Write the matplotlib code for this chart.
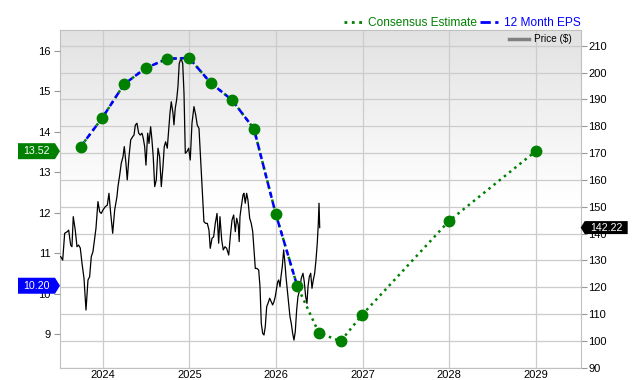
import numpy as np
import pandas as pd
import matplotlib
matplotlib.use("Agg")
import matplotlib.pyplot as plt
import matplotlib.transforms as mtransforms
from matplotlib.patches import Polygon
from matplotlib.lines import Line2D
from matplotlib.colors import LinearSegmentedColormap

plt.rcParams['font.family'] = ['Liberation Sans', 'DejaVu Sans']

# 12 month EPS (reported) followed by consensus estimates
eps_dates = ["2023-09-30", "2023-12-31", "2024-03-31", "2024-06-30", "2024-09-30",
             "2024-12-31", "2025-03-31", "2025-06-30", "2025-09-30", "2025-12-31",
             "2026-03-31", "2026-06-30", "2026-09-30", "2026-12-31", "2027-12-31",
             "2028-12-31"]
eps_values = [13.63, 14.35, 15.17, 15.57, 15.80, 15.82, 15.21, 14.78, 14.07, 11.97,
              10.20, 9.04, 8.83, 9.49, 11.80, 13.52]
n_reported = 11

# weekly share price (decimal year, $)
price_t = [2023.515, 2023.538, 2023.561, 2023.591, 2023.607, 2023.630, 2023.645, 2023.660,
           2023.683, 2023.703, 2023.722, 2023.741, 2023.761, 2023.784, 2023.807, 2023.830,
           2023.849, 2023.868, 2023.887, 2023.907, 2023.922, 2023.945, 2023.965, 2023.983,
           2024.003, 2024.029, 2024.053, 2024.072, 2024.092, 2024.115, 2024.138, 2024.164,
           2024.176, 2024.196, 2024.214, 2024.234, 2024.249, 2024.268, 2024.283, 2024.303,
           2024.323, 2024.346, 2024.361, 2024.376, 2024.395, 2024.415, 2024.433, 2024.453,
           2024.468, 2024.484, 2024.499, 2024.519, 2024.534, 2024.553, 2024.568, 2024.583,
           2024.600, 2024.618, 2024.638, 2024.657, 2024.676, 2024.695, 2024.710, 2024.726,
           2024.745, 2024.761, 2024.776, 2024.791, 2024.811, 2024.822, 2024.837, 2024.853,
           2024.868, 2024.883, 2024.903, 2024.923, 2024.938, 2024.953, 2024.972, 2024.992,
           2025.010, 2025.030, 2025.053, 2025.073, 2025.091, 2025.111, 2025.130, 2025.149,
           2025.168, 2025.188, 2025.207, 2025.226, 2025.241, 2025.261, 2025.280, 2025.299,
           2025.319, 2025.338, 2025.353, 2025.373, 2025.391, 2025.411, 2025.430, 2025.454,
           2025.472, 2025.492, 2025.511, 2025.530, 2025.546, 2025.564, 2025.575, 2025.584,
           2025.599, 2025.619, 2025.630, 2025.645, 2025.661, 2025.676, 2025.696, 2025.714,
           2025.731, 2025.746, 2025.761, 2025.780, 2025.800, 2025.815, 2025.830, 2025.846,
           2025.861, 2025.876, 2025.892, 2025.907, 2025.927, 2025.945, 2025.961, 2025.976,
           2025.991, 2026.007, 2026.019, 2026.031, 2026.046, 2026.057, 2026.072, 2026.088,
           2026.103, 2026.115, 2026.130, 2026.146, 2026.161, 2026.176, 2026.192, 2026.207,
           2026.222, 2026.238, 2026.253, 2026.273, 2026.291, 2026.311, 2026.326, 2026.342,
           2026.357, 2026.369, 2026.384, 2026.400, 2026.415, 2026.430, 2026.446, 2026.461,
           2026.476, 2026.488, 2026.496, 2026.504]
price = [131.4, 130.1, 140.1, 140.7, 141.3, 135.7, 135.1, 146.3,
         141.3, 135.1, 135.7, 134.6, 128.9, 123.3, 111.5, 122.7,
         123.9, 131.4, 133.2, 138.2, 141.9, 151.9, 148.1, 147.5,
         148.8, 150.0, 150.6, 155.0, 147.5, 140.1, 148.8, 153.7,
         157.5, 161.8, 166.2, 168.6, 172.4, 166.2, 160.0, 168.6,
         174.9, 176.1, 176.7, 180.4, 181.1, 177.4, 176.7, 177.4,
         175.5, 172.4, 165.5, 177.4, 173.6, 179.8, 174.9, 168.6,
         157.5, 160.0, 171.8, 168.6, 157.5, 164.9, 172.4, 174.2,
         171.8, 178.6, 184.8, 189.1, 184.8, 180.5, 186.7, 189.8,
         194.7, 203.4, 205.3, 203.4, 192.3, 169.9, 170.5, 171.8,
         167.4, 181.1, 187.3, 184.2, 180.4, 179.2, 167.4, 155.0,
         144.4, 143.8, 143.8, 141.3, 134.5, 138.2, 138.8, 143.8,
         147.5, 136.4, 146.3, 137.6, 133.9, 135.1, 134.5, 132.0,
         138.8, 145.0, 146.9, 140.7, 145.7, 143.2, 137.0, 146.3,
         150.0, 154.4, 155.0, 151.3, 155.0, 152.5, 145.7, 143.8,
         140.7, 133.9, 127.0, 127.0, 126.4, 120.2, 106.5, 102.8,
         102.2, 105.3, 112.7, 114.0, 115.9, 114.6, 113.4, 114.6,
         116.5, 119.6, 122.0, 122.7, 120.2, 123.9, 127.6, 133.9,
         128.9, 123.9, 119.0, 114.0, 109.0, 106.5, 102.8, 100.3,
         103.4, 111.5, 116.5, 119.0, 123.3, 125.2, 122.0, 116.5,
         114.0, 120.2, 123.9, 125.2, 119.6, 122.7, 125.2, 130.1,
         136.4, 143.8, 151.3, 142.22]

year_ticks = [2024, 2025, 2026, 2027, 2028, 2029]
eps_ticks = [9, 10, 11, 12, 13, 14, 15, 16]
price_ticks = list(range(90, 211, 10))


def to_year(s):
    d = pd.to_datetime(s)
    return d.year + (d.dayofyear - 1) / (366 if d.is_leap_year else 365)


eps_t = np.array([to_year(s) for s in eps_dates])

fig = plt.figure(figsize=(6.4, 3.8), dpi=100)
ax = fig.add_axes([60 / 640, 12 / 380, 520.7 / 640, 338 / 380])

# grey-to-white background
cmap = LinearSegmentedColormap.from_list("bg", [(0, "white"), (0.5, "white"), (1, "#e2e2e2")])
grad = np.linspace(0, 1, 256).reshape(-1, 1)
ax.imshow(grad, extent=[0, 1, 0, 1], transform=ax.transAxes, aspect="auto",
          cmap=cmap, origin="lower", zorder=0)

# price on the main axes (right side)
ax.plot(price_t, price, color="black", lw=0.9, zorder=3)
ax.set_xlim(2023.507, 2029.516)
ax.set_ylim(89.9, 215.85)
ax.set_yticks(price_ticks)
ax.set_xticks(year_ticks)
ax.set_xticklabels([str(y) for y in year_ticks])
ax.grid(True, color="#cccccc", lw=0.9, zorder=1)
ax.set_axisbelow(True)
for s in ax.spines.values():
    s.set_color("#c0c0c0")

# EPS on the twin axes (left side)
ax2 = ax.twinx()
ax.yaxis.tick_right()
ax.tick_params(axis="y", length=4.5, color="#999999", labelsize=8, pad=1)
ax.tick_params(axis="x", length=0, labelsize=8, pad=1.5)
ax2.yaxis.tick_left()
ax2.yaxis.set_label_position("left")
ax2.set_ylim(8.17, 16.51)
ax2.set_yticks(eps_ticks)
ax2.tick_params(axis="y", length=4.5, color="#999999", labelsize=8, pad=2.5)
for s in ax2.spines.values():
    s.set_visible(False)

ax2.plot(eps_t, eps_values, color="green", ls=":", lw=1.8, zorder=3)
ax2.plot(eps_t[:n_reported], eps_values[:n_reported], color="blue",
         ls=(0, (2.5, 1.5)), lw=1.8, zorder=4)
ax2.plot(eps_t, eps_values, ls="none", marker="o", ms=7.5, color="green", zorder=5)


def flag(src_ax, xa, val, text, color, side, w, h, tip):
    anchor = mtransforms.blended_transform_factory(src_ax.transAxes, src_ax.transData)
    tr = fig.dpi_scale_trans + mtransforms.ScaledTranslation(xa, val, anchor)
    sgn = -1 if side == "left" else 1
    verts = [(0, 0), (sgn * tip, h), (sgn * w, h), (sgn * w, -h), (sgn * tip, -h)]
    ax2.add_artist(Polygon(verts, closed=True, transform=tr, facecolor=color,
                           edgecolor="none", clip_on=False, zorder=20))
    ax2.text(sgn * (w + tip) / 2, 0, text, transform=tr, color="white", fontsize=7.7,
             ha="center", va="center", clip_on=False, zorder=21)


flag(ax2, 0, eps_values[-1], f"{eps_values[-1]:.2f}", "green", "left", 0.42, 0.08, 0.05)
flag(ax2, 0, eps_values[n_reported - 1], f"{eps_values[n_reported - 1]:.2f}", "blue",
     "left", 0.42, 0.08, 0.05)
flag(ax, 1, price[-1], f"{price[-1]:.2f}", "black", "right", 0.47, 0.065, 0.04)

# legends
top_handles = [Line2D([], [], color="green", ls=":", lw=2),
               Line2D([], [], color="blue", ls="--", lw=2)]
fig.legend(top_handles, ["Consensus Estimate", "12 Month EPS"], loc="lower right",
           bbox_to_anchor=(581 / 640, 1 - 29 / 380), ncol=2, frameon=False, fontsize=8.6,
           handlelength=1.5, handletextpad=0.5, columnspacing=0.3, borderpad=0,
           borderaxespad=0, labelcolor=["green", "blue"])
fig.legend([Line2D([], [], color="#808080", lw=2.5)], ["Price ($)"], loc="upper right",
           bbox_to_anchor=(572 / 640, 1 - 34 / 380), frameon=False, fontsize=7.2,
           handlelength=2.0, handletextpad=0.5, borderpad=0, borderaxespad=0)

fig.savefig("out.png", dpi=100)
